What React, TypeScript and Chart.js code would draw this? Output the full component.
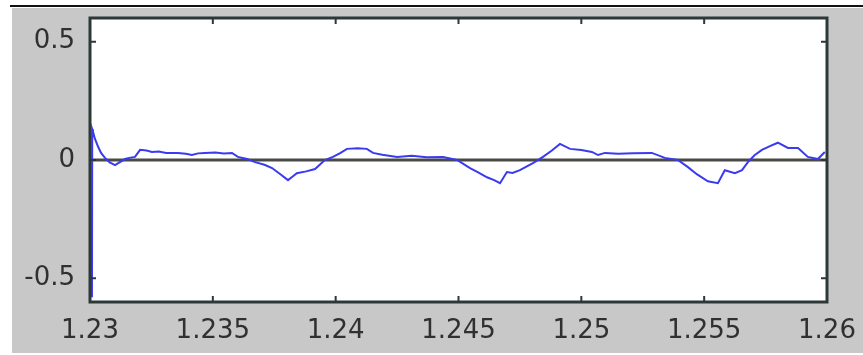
import React, { useEffect, useRef } from "react";
import { Chart, registerables } from "chart.js";

Chart.register(...registerables);

// Time (s) and signal values
const timeS = [
  1.23008, 1.23009, 1.23012, 1.2302, 1.23033, 1.23045, 1.23061, 1.2308, 1.23102, 1.2312,
  1.23142, 1.23165, 1.23183, 1.23204, 1.2323, 1.23252, 1.2328, 1.2331, 1.23358, 1.2339,
  1.23415, 1.2344, 1.23468, 1.2351, 1.23545, 1.23578, 1.23602, 1.2364, 1.23672, 1.2371,
  1.23741, 1.23775, 1.23806, 1.23825, 1.23842, 1.2388, 1.23916, 1.23956, 1.23989, 1.2402,
  1.24046, 1.2409, 1.24127, 1.24152, 1.2419, 1.2425, 1.2431, 1.2437, 1.24437, 1.24494,
  1.24547, 1.2458, 1.24616, 1.24645, 1.24669, 1.24697, 1.2472, 1.2475, 1.24803, 1.24844,
  1.2488, 1.24913, 1.24954, 1.2500, 1.25043, 1.25068, 1.25096, 1.2515, 1.2521, 1.25287,
  1.2534, 1.25393, 1.25434, 1.2547, 1.25515, 1.25556, 1.25584, 1.25625, 1.25654, 1.25678,
  1.25705, 1.25735, 1.2577, 1.258, 1.25841, 1.25882, 1.25922, 1.25963, 1.25991,
];
const signal = [
  -0.58, 0.13, 0.12, 0.09, 0.056, 0.03, 0.009, -0.01, -0.022, -0.01,
  0.004, 0.01, 0.013, 0.043, 0.04, 0.034, 0.036, 0.03, 0.03, 0.026,
  0.021, 0.028, 0.03, 0.032, 0.028, 0.03, 0.013, 0.004, -0.009, -0.02,
  -0.034, -0.06, -0.085, -0.07, -0.056, -0.048, -0.038, 0.0, 0.013, 0.03,
  0.047, 0.05, 0.047, 0.03, 0.022, 0.013, 0.018, 0.012, 0.013, 0.0,
  -0.034, -0.052, -0.073, -0.085, -0.098, -0.051, -0.055, -0.043, -0.013, 0.013,
  0.04, 0.068, 0.047, 0.042, 0.034, 0.021, 0.03, 0.026, 0.028, 0.03,
  0.009, 0.0, -0.03, -0.06, -0.09, -0.098, -0.043, -0.056, -0.043, -0.009,
  0.02, 0.043, 0.06, 0.073, 0.051, 0.051, 0.013, 0.004, 0.034,
];
const baseTimeS = [1.23, 1.26];
const baseValue = [0, 0];

const xTickValues = [1.23, 1.235, 1.24, 1.245, 1.25, 1.255, 1.26];
const xTickLabels = ["1.23", "1.235", "1.24", "1.245", "1.25", "1.255", "1.26"];
const yTickValues = [-0.5, 0, 0.5];
const yTickLabels = ["-0.5", "0", "0.5"];

const framePlugin = {
  id: "matlabFrame",
  beforeDraw(chart: any) {
    const { ctx, width, height, chartArea } = chart;
    ctx.save();
    ctx.fillStyle = "#ffffff";
    ctx.fillRect(0, 0, width, height);
    ctx.fillStyle = "#111111";
    ctx.fillRect(10, 5, width - 10, 2);
    ctx.fillStyle = "#c8c8c8";
    ctx.fillRect(12, 8, width - 12, height - 10);
    ctx.fillStyle = "#ffffff";
    ctx.fillRect(chartArea.left, chartArea.top, chartArea.right - chartArea.left, chartArea.bottom - chartArea.top);
    ctx.restore();
  },
  afterDatasetsDraw(chart: any) {
    const { ctx, chartArea } = chart;
    const xs = chart.scales.x;
    const ys = chart.scales.y;
    ctx.save();
    ctx.strokeStyle = "#2d3838";
    ctx.lineWidth = 3;
    ctx.strokeRect(chartArea.left, chartArea.top, chartArea.right - chartArea.left, chartArea.bottom - chartArea.top);
    ctx.lineWidth = 2;
    ctx.beginPath();
    const len = 6;
    xTickValues.forEach((v) => {
      const px = xs.getPixelForValue(v);
      ctx.moveTo(px, chartArea.bottom);
      ctx.lineTo(px, chartArea.bottom - len);
      ctx.moveTo(px, chartArea.top);
      ctx.lineTo(px, chartArea.top + len);
    });
    yTickValues.forEach((v) => {
      const py = ys.getPixelForValue(v);
      ctx.moveTo(chartArea.left, py);
      ctx.lineTo(chartArea.left + len, py);
      ctx.moveTo(chartArea.right, py);
      ctx.lineTo(chartArea.right - len, py);
    });
    ctx.stroke();
    ctx.restore();
  },
};

const noPad = (s: any) => {
  s.paddingTop = 0;
  s.paddingBottom = 0;
  s.paddingLeft = 0;
  s.paddingRight = 0;
};

export default function App() {
  const ref = useRef<HTMLCanvasElement | null>(null);
  useEffect(() => {
    if (!ref.current) return;
    const chart = new Chart(ref.current, {
      type: "line",
      data: {
        datasets: [
          {
            data: baseTimeS.map((t, i) => ({ x: t, y: baseValue[i] })),
            borderColor: "#4a4a44",
            borderWidth: 3,
            pointRadius: 0,
            order: 2,
          },
          {
            data: timeS.map((t, i) => ({ x: t, y: signal[i] })),
            borderColor: "#3a3aee",
            borderWidth: 2,
            pointRadius: 0,
            tension: 0,
            order: 1,
          },
        ],
      },
      options: {
        animation: false,
        responsive: false,
        maintainAspectRatio: false,
        layout: { padding: { top: 18, right: 36, left: 0, bottom: 0 } },
        plugins: { legend: { display: false }, tooltip: { enabled: false } },
        scales: {
          x: {
            type: "linear",
            min: 1.23,
            max: 1.26,
            afterBuildTicks: (s: any) => {
              s.ticks = xTickValues.map((v) => ({ value: v }));
            },
            afterFit: (s: any) => {
              s.height = 53;
              noPad(s);
            },
            grid: { display: false, drawTicks: false },
            border: { display: false },
            ticks: {
              autoSkip: false,
              maxRotation: 0,
              padding: 14,
              color: "#303030",
              font: { family: "DejaVu Sans", size: 26 },
              callback: (_v: any, i: number) => xTickLabels[i],
            },
          },
          y: {
            type: "linear",
            min: -0.6,
            max: 0.6,
            afterBuildTicks: (s: any) => {
              s.ticks = yTickValues.map((v) => ({ value: v }));
            },
            afterFit: (s: any) => {
              s.width = 90;
              noPad(s);
            },
            grid: { display: false, drawTicks: false },
            border: { display: false },
            ticks: {
              padding: 15,
              color: "#303030",
              font: { family: "DejaVu Sans", size: 26 },
              callback: (_v: any, i: number) => yTickLabels[i],
            },
          },
        },
      },
      plugins: [framePlugin],
    });
    return () => chart.destroy();
  }, []);
  return (
    <div style={{ position: "fixed", left: 0, top: 0, width: 863, height: 355 }}>
      <canvas ref={ref} width={863} height={355} style={{ width: 863, height: 355 }} />
    </div>
  );
}
